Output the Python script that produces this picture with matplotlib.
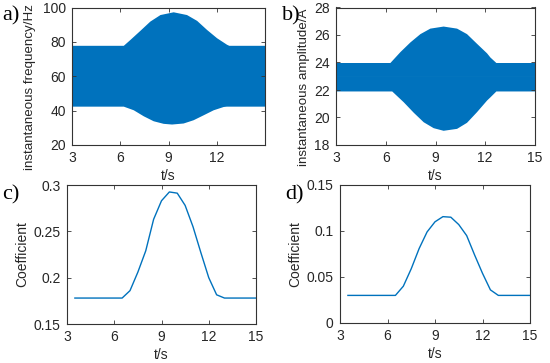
import matplotlib
matplotlib.use("Agg")
import matplotlib.pyplot as plt

plt.rcParams['font.family'] = ['Liberation Sans', 'DejaVu Sans']

# Panel a: envelope of instantaneous frequency (Hz)
t_a_up = [3.0, 6.19, 6.60, 7.22, 7.84, 8.47, 9.29, 10.12, 10.75, 11.37, 11.99, 12.61, 12.75, 15.0]
f_up   = [78.0, 78.0, 81.4, 86.7, 92.1, 95.9, 97.5, 95.9, 92.5, 87.2, 82.4, 78.6, 78.0, 78.0]
t_a_lo = [3.0, 6.19, 6.81, 7.43, 8.05, 8.67, 9.19, 9.91, 10.53, 11.16, 11.78, 12.40, 12.6, 15.0]
f_lo   = [42.6, 42.6, 40.5, 37.0, 34.1, 32.6, 32.2, 32.8, 34.7, 37.6, 40.5, 42.4, 42.6, 42.6]

# Panel b: envelope of instantaneous amplitude (A)
t_b_up = [3.0, 6.25, 6.86, 7.46, 8.06, 8.66, 9.46, 10.27, 10.87, 11.47, 12.08, 12.28, 12.64, 15.0]
a_up   = [24.0, 24.0, 24.8, 25.5, 26.1, 26.5, 26.65, 26.5, 26.1, 25.4, 24.7, 24.4, 24.0, 24.0]
t_b_lo = [3.0, 6.36, 7.05, 7.66, 8.26, 8.86, 9.46, 10.27, 10.87, 11.47, 12.08, 12.28, 12.64, 15.0]
a_lo   = [21.93, 21.93, 21.15, 20.38, 19.69, 19.26, 19.07, 19.21, 19.65, 20.42, 21.27, 21.5, 21.93, 21.93]

# Panels c, d: coefficients
t_cd = [3.5, 6.5, 7.0, 7.5, 8.0, 8.5, 9.0, 9.5, 10.0, 10.5, 11.0, 11.5, 12.0, 12.5, 13.0, 15.0]
coef_c = [0.178, 0.178, 0.186, 0.206, 0.229, 0.263, 0.283, 0.2925, 0.2912, 0.278, 0.255, 0.227,
          0.200, 0.1815, 0.178, 0.178]
coef_d = [0.030, 0.030, 0.040, 0.059, 0.081, 0.099, 0.110, 0.1156, 0.115, 0.107, 0.095, 0.074,
          0.054, 0.036, 0.030, 0.030]

xt_a = [3, 6, 9, 12]
xt = [3, 6, 9, 12, 15]
yt_a = [20, 40, 60, 80, 100]
yt_b = [18, 20, 22, 24, 26, 28]
yt_c = [0.15, 0.2, 0.25, 0.3]
yt_c_lab = ['0.15', '0.2', '0.25', '0.3']
yt_d = [0, 0.05, 0.1, 0.15]
yt_d_lab = ['0', '0.05', '0.1', '0.15']

BLUE = '#0072BD'
EDGE = '#333333'
TXT = '#262626'

W, H = 550, 363
fig = plt.figure(figsize=(5.5, 3.63), dpi=100)

def rect(l, r, t, b):
    return [l / W, 1 - b / H, (r - l) / W, (b - t) / H]

ax_a = fig.add_axes(rect(72, 265, 7.5, 145))
ax_b = fig.add_axes(rect(336, 535, 7.5, 145))
ax_c = fig.add_axes(rect(67, 256, 185, 324))
ax_d = fig.add_axes(rect(340, 530, 185, 323))

def style(ax):
    for s in ax.spines.values():
        s.set_color(EDGE)
        s.set_linewidth(0.8)
    ax.tick_params(direction='in', length=3, width=0.6, color=EDGE,
                   top=True, right=True, labelsize=10, labelcolor=TXT, pad=4.5)

ax_a.fill_between(t_a_up, f_up, 60, color=BLUE, lw=0)
ax_a.fill_between(t_a_lo, f_lo, 60.5, color=BLUE, lw=0)
ax_a.set_xlim(3, 15)
ax_a.set_ylim(20, 100)
ax_a.set_xticks(xt_a)
ax_a.set_yticks(yt_a)
ax_a.set_ylabel('instantaneous frequency/Hz', fontsize=9.6, color=TXT)
ax_a.yaxis.set_label_coords(-36 / 193, (145 - 87) / 137.5)
ax_a.set_xlabel('t/s', fontsize=10, color=TXT, labelpad=3)
style(ax_a)

ax_b.fill_between(t_b_up, a_up, 23, color=BLUE, lw=0)
ax_b.fill_between(t_b_lo, a_lo, 23.05, color=BLUE, lw=0)
ax_b.set_xlim(3, 15)
ax_b.set_ylim(18, 28)
ax_b.set_xticks(xt)
ax_b.set_yticks(yt_b)
ax_b.set_ylabel('instantaneous amplitude/A', fontsize=9.6, color=TXT)
ax_b.yaxis.set_label_coords(-(336 - 310) / 199, (145 - 87) / 137.5)
ax_b.set_xlabel('t/s', fontsize=10, color=TXT, labelpad=3)
style(ax_b)

ax_c.plot(t_cd, coef_c, color=BLUE, lw=1.0)
ax_c.set_xlim(3, 15)
ax_c.set_ylim(0.15, 0.3)
ax_c.set_xticks(xt)
ax_c.set_yticks(yt_c)
ax_c.set_yticklabels(yt_c_lab)
ax_c.set_ylabel('Coefficient', fontsize=10, color=TXT, labelpad=3)
ax_c.set_xlabel('t/s', fontsize=10, color=TXT, labelpad=3)
style(ax_c)

ax_d.plot(t_cd, coef_d, color=BLUE, lw=1.0)
ax_d.set_xlim(3, 15)
ax_d.set_ylim(0, 0.15)
ax_d.set_xticks(xt)
ax_d.set_yticks(yt_d)
ax_d.set_yticklabels(yt_d_lab)
ax_d.set_ylabel('Coefficient', fontsize=10, color=TXT, labelpad=3)
ax_d.set_xlabel('t/s', fontsize=10, color=TXT, labelpad=3)
style(ax_d)

for lab, x, y in [('a)', 2, 6), ('b)', 282, 6), ('c)', 2, 185), ('d)', 285, 185)]:
    fig.text(x / W, 1 - y / H, lab, family='Liberation Serif', fontsize=16,
             ha='left', va='top', color='black')

fig.savefig('out.png', dpi=100)
